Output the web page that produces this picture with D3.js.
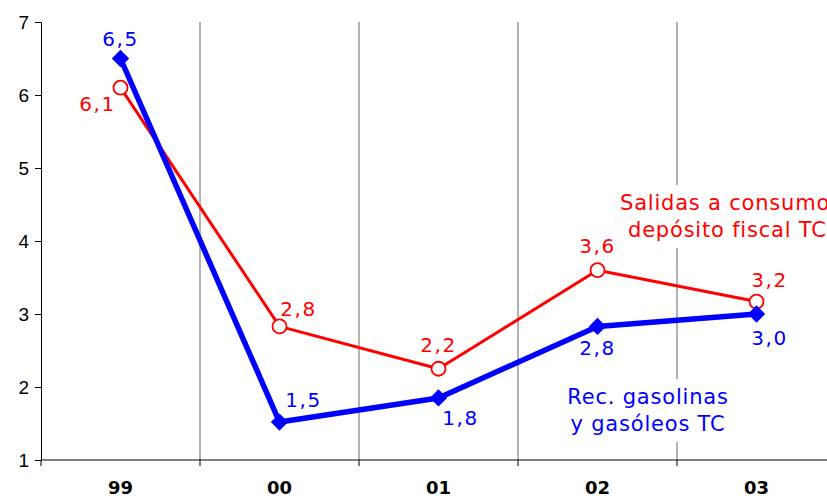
<!DOCTYPE html>
<html><head><meta charset="utf-8">
<script src="https://cdn.jsdelivr.net/npm/d3@7"></script>
<style>html,body{margin:0;padding:0;background:#fff;overflow:hidden}</style>
</head><body>
<svg id="c" width="827" height="498"></svg>
<script>
const categories = ["99","00","01","02","03"];
const recValues = [6.5, 1.52, 1.85, 2.83, 3.0];
const recLabels = ["6,5","1,5","1,8","2,8","3,0"];
const salValues = [6.1, 2.83, 2.25, 3.6, 3.17];
const salLabels = ["6,1","2,8","2,2","3,6","3,2"];
const yTicks = [1,2,3,4,5,6,7];
const recLegend = ["Rec. gasolinas","y gasóleos TC"];
const salLegend = ["Salidas a consumo","depósito fiscal TC"];

// label offsets (layout)
const recOff = [[0,-20],[24,-22],[22,20],[0,22],[13,24]];
const salOff = [[-23,16],[19,-17],[0,-24],[0,-24],[13,-22]];

const svg = d3.select("#c");
const x = d3.scaleBand().domain(categories).range([41, 836]);
const y = d3.scaleLinear().domain([1,7]).range([460, 22]);
const cx = d => x(d) + x.bandwidth()/2;

const BLUE = "#0000ff", RED = "#ff0000";
const lblFont = "Verdana, 'DejaVu Sans', sans-serif";

// vertical gridlines at band edges
svg.append("g").selectAll("line").data(categories.slice(1)).join("line")
  .attr("x1", d => x(d)).attr("x2", d => x(d))
  .attr("y1", y(7)).attr("y2", y(1))
  .attr("stroke", "#666").attr("stroke-width", 1);

// legend backgrounds (white) and text
function legend(lines, color, xs, yStart, anchor) {
  const g = svg.append("g");
  const rect = g.append("rect").attr("fill", "#fff");
  g.selectAll("text").data(lines).join("text")
    .attr("x", (d,i) => xs[i]).attr("y", (d,i) => yStart + i*27)
    .attr("text-anchor", anchor)
    .attr("dominant-baseline", "central")
    .attr("font-family", lblFont).attr("font-size", 21).attr("letter-spacing", 0.8)
    .attr("fill", color).text(d => d);
  const bb = g.node().getBBox();
  rect.attr("x", bb.x - 4).attr("y", bb.y - 6).attr("width", bb.width + 8).attr("height", bb.height + 12);
}
legend(salLegend, RED, [620, 628], 203, "start");
legend(recLegend, BLUE, [648, 648], 397, "middle");

// axes
const yAxis = d3.axisLeft(y).tickValues(yTicks).tickSize(6).tickPadding(6).tickFormat(d3.format("d"));
const gy = svg.append("g").attr("transform", "translate(41,0)").call(yAxis);
gy.select(".domain").attr("stroke", "#000");
gy.selectAll(".tick line").attr("stroke", "#000");
gy.selectAll(".tick text").attr("font-family", "Arial, 'Liberation Sans', sans-serif")
  .attr("font-size", 19).attr("fill", "#000");

const xAxis = d3.axisBottom(x).tickSize(0).tickPadding(21);
const gx = svg.append("g").attr("transform", "translate(0,460)").call(xAxis);
gx.select(".domain").attr("stroke", "#000").attr("d", "M41,0H836");
gx.selectAll(".tick text").attr("font-family", "Tahoma, 'DejaVu Sans', sans-serif")
  .attr("font-weight", "bold").attr("font-size", 18).attr("fill", "#000");
// bottom ticks at band edges
svg.append("g").selectAll("line").data(categories).join("line")
  .attr("x1", d => x(d)).attr("x2", d => x(d))
  .attr("y1", 460).attr("y2", 466).attr("stroke", "#000");

// lines
const line = d3.line().x((d,i) => cx(categories[i])).y(d => y(d));
svg.append("path").datum(salValues).attr("d", line)
  .attr("fill", "none").attr("stroke", RED).attr("stroke-width", 3).attr("stroke-linejoin", "round");
svg.append("path").datum(recValues).attr("d", line)
  .attr("fill", "none").attr("stroke", BLUE).attr("stroke-width", 5.5).attr("stroke-linejoin", "round");

// markers
svg.append("g").selectAll("circle").data(salValues).join("circle")
  .attr("cx", (d,i) => cx(categories[i])).attr("cy", d => y(d))
  .attr("r", 7).attr("fill", "#fff").attr("stroke", RED).attr("stroke-width", 1.8);
const sq = d3.symbol().type(d3.symbolSquare).size(150);
svg.append("g").selectAll("path").data(recValues).join("path")
  .attr("d", sq)
  .attr("transform", (d,i) => `translate(${cx(categories[i])},${y(d)}) rotate(45)`)
  .attr("fill", BLUE);

// data labels
function labels(vals, texts, off, color) {
  svg.append("g").selectAll("text").data(vals).join("text")
    .attr("x", (d,i) => cx(categories[i]) + off[i][0])
    .attr("y", (d,i) => y(d) + off[i][1])
    .attr("text-anchor", "middle").attr("dominant-baseline", "central")
    .attr("font-family", lblFont).attr("font-size", 20).attr("letter-spacing", 1.6)
    .attr("fill", color).text((d,i) => texts[i]);
}
labels(salValues, salLabels, salOff, RED);
labels(recValues, recLabels, recOff, BLUE);
</script>
</body></html>
